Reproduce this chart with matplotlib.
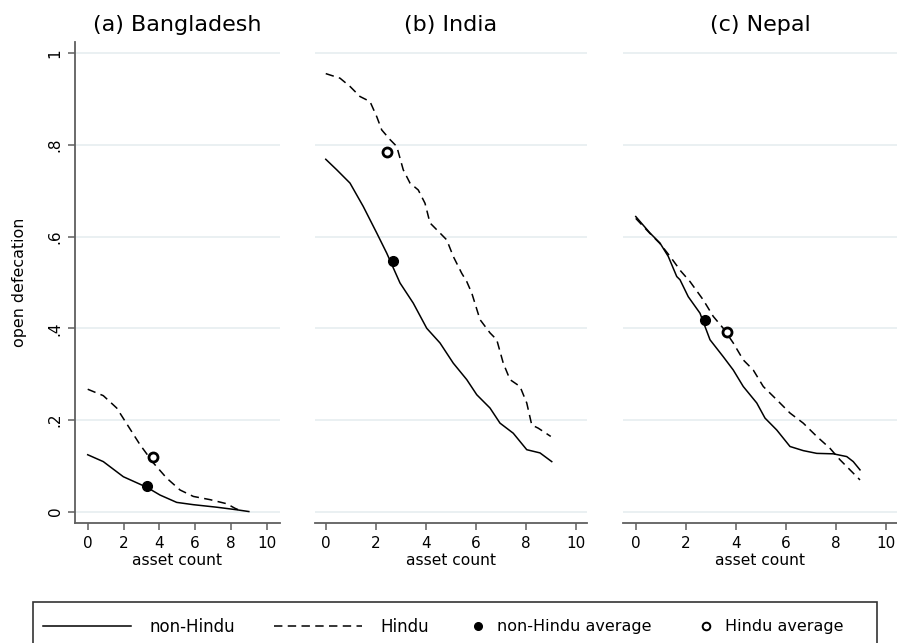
import matplotlib
matplotlib.use("Agg")
import matplotlib.pyplot as plt
from matplotlib.lines import Line2D
from matplotlib.patches import Rectangle

# ---- data ----
titles = ["(a) Bangladesh", "(b) India", "(c) Nepal"]

bd_x_non = [0.0, 0.87, 1.99, 3.3, 4.04, 4.97, 5.9, 7.2, 8.3, 9.0]
bd_y_non = [0.124, 0.109, 0.076, 0.053, 0.036, 0.020, 0.015, 0.0095, 0.004, 0.0]
bd_x_hin = [0.0, 0.87, 1.62, 2.27, 2.92, 3.67, 4.41, 5.16, 5.9, 6.83, 7.77, 8.23, 8.6]
bd_y_hin = [0.267, 0.253, 0.226, 0.186, 0.146, 0.106, 0.073, 0.047, 0.033, 0.026, 0.017, 0.007, 0.001]

in_x_non = [0.0, 0.44, 0.97, 1.5, 2.04, 2.44, 2.97, 3.5, 4.04, 4.57, 5.1, 5.64,
            6.04, 6.57, 6.97, 7.5, 8.04, 8.57, 9.04]
in_y_non = [0.769, 0.746, 0.717, 0.666, 0.608, 0.564, 0.499, 0.455, 0.400, 0.368,
            0.324, 0.288, 0.255, 0.226, 0.193, 0.171, 0.135, 0.128, 0.109]
in_x_hin = [0.0, 0.57, 0.97, 1.37, 1.77, 2.04, 2.24, 2.57, 2.84, 3.1, 3.37, 3.7,
            3.97, 4.17, 4.57, 4.84, 5.1, 5.44, 5.64, 5.84, 6.17, 6.57, 6.84, 7.1,
            7.37, 7.77, 8.04, 8.24, 8.5, 9.0]
in_y_hin = [0.956, 0.946, 0.928, 0.906, 0.895, 0.862, 0.833, 0.812, 0.797, 0.746,
            0.717, 0.702, 0.673, 0.630, 0.608, 0.593, 0.557, 0.520, 0.502, 0.477,
            0.419, 0.390, 0.375, 0.324, 0.288, 0.273, 0.237, 0.189, 0.182, 0.164]

np_x_non = [0.0, 0.57, 0.97, 1.3, 1.64, 1.77, 2.1, 2.57, 2.97, 3.5, 3.9, 4.3, 4.84,
            5.17, 5.64, 6.17, 6.7, 7.24, 7.9, 8.44, 8.7, 8.97]
np_y_non = [0.644, 0.608, 0.586, 0.557, 0.513, 0.506, 0.469, 0.433, 0.375, 0.338,
            0.309, 0.273, 0.237, 0.204, 0.178, 0.142, 0.133, 0.127, 0.126, 0.120,
            0.109, 0.091]
np_x_hin = [0.0, 0.57, 0.97, 1.4, 1.8, 2.17, 2.7, 3.1, 3.5, 3.9, 4.3, 4.7, 5.1,
            5.64, 6.17, 6.7, 7.24, 7.77, 8.17, 8.57, 8.97]
np_y_hin = [0.640, 0.607, 0.585, 0.555, 0.525, 0.502, 0.462, 0.426, 0.400, 0.368,
            0.331, 0.309, 0.273, 0.244, 0.215, 0.193, 0.164, 0.138, 0.113, 0.091, 0.069]

avg_non_x = [3.3, 2.68, 2.78]
avg_non_y = [0.055, 0.548, 0.419]
avg_hin_x = [3.67, 2.44, 3.64]
avg_hin_y = [0.118, 0.784, 0.393]

curves = [
    (bd_x_non, bd_y_non, bd_x_hin, bd_y_hin),
    (in_x_non, in_y_non, in_x_hin, in_y_hin),
    (np_x_non, np_y_non, np_x_hin, np_y_hin),
]

x_ticks = [0, 2, 4, 6, 8, 10]
y_ticks = [0, 0.2, 0.4, 0.6, 0.8, 1.0]
y_ticklabels = ["0", ".2", ".4", ".6", ".8", "1"]

W, H = 897, 643
fig = plt.figure(figsize=(W / 100, H / 100), dpi=100)

# panel boxes in pixels: (left, right)
boxes = [(75, 280), (315, 587), (623, 897)]
top_px, bot_px = 42, 523
xlims = [(-0.71, 10.74), (-0.43, 10.45), (-0.51, 10.45)]

spine_col = "#5f5f5f"
grid_col = "#e6eef0"
dash = (5.5, 3.5)

for i, ax_box in enumerate(boxes):
    l, r = ax_box
    ax = fig.add_axes([l / W, 1 - bot_px / H, (r - l) / W, (bot_px - top_px) / H])
    xn, yn, xh, yh = curves[i]
    ax.plot(xn, yn, color="black", lw=1.1)
    ax.plot(xh, yh, color="black", lw=1.1, dashes=dash)
    ax.plot(avg_non_x[i], avg_non_y[i], "o", color="black", ms=7)
    ax.plot(avg_hin_x[i], avg_hin_y[i], "o", mfc="white", mec="black", mew=2, ms=6.5)

    ax.set_xlim(*xlims[i])
    ax.set_ylim(-0.025, 1.025)
    ax.set_yticks(y_ticks)
    ax.set_xticks(x_ticks)
    ax.grid(axis="y", color=grid_col, lw=1.2)
    ax.set_axisbelow(True)
    for s in ["top", "right"]:
        ax.spines[s].set_visible(False)
    ax.spines["bottom"].set_color(spine_col)
    ax.spines["bottom"].set_linewidth(1.3)
    ax.tick_params(axis="x", colors=spine_col, labelcolor="black", length=5,
                   width=1.1, labelsize=11, pad=4)
    if i == 0:
        ax.spines["left"].set_color(spine_col)
        ax.spines["left"].set_linewidth(1.3)
        ax.set_yticklabels(y_ticklabels, rotation=90, va="center")
        ax.tick_params(axis="y", colors=spine_col, labelcolor="black", length=5,
                       width=1.1, labelsize=11, pad=4)
        ax.set_ylabel("open defecation", fontsize=11.4, labelpad=15)
    else:
        ax.spines["left"].set_visible(False)
        ax.tick_params(axis="y", left=False, labelleft=False)
    ax.set_xlabel("asset count", fontsize=11.2, labelpad=2)
    ax.set_title(titles[i], fontsize=16, pad=8)

# legend: two frameless groups of entries inside one drawn box
leg_y = 1 - 627 / H
line_handles = [
    Line2D([], [], color="black", lw=1.1),
    Line2D([], [], color="black", lw=1.1, dashes=dash),
]
mark_handles = [
    Line2D([], [], ls="none", marker="o", color="black", ms=5.5),
    Line2D([], [], ls="none", marker="o", mfc="white", mec="black", mew=1.4, ms=5.5),
]
leg1 = fig.legend(line_handles, ["non-Hindu", "Hindu"], ncol=2, loc="center left",
                  bbox_to_anchor=(43 / W, leg_y), frameon=False, fontsize=12,
                  handlelength=5.3, handletextpad=1.1, columnspacing=2.3,
                  borderpad=0, borderaxespad=0)
leg2 = fig.legend(mark_handles, ["non-Hindu average", "Hindu average"], ncol=2,
                  loc="center left", bbox_to_anchor=(470 / W, leg_y), frameon=False,
                  fontsize=11.5, handlelength=1.0, handletextpad=0.7, columnspacing=2.9,
                  borderpad=0, borderaxespad=0)
fig.add_artist(Rectangle((33 / W, -0.05), (877 - 33) / W, 0.05 + (643 - 602) / H,
                         transform=fig.transFigure, fill=False, ec="#333333", lw=1.2))

fig.savefig("out.png", dpi=100)
